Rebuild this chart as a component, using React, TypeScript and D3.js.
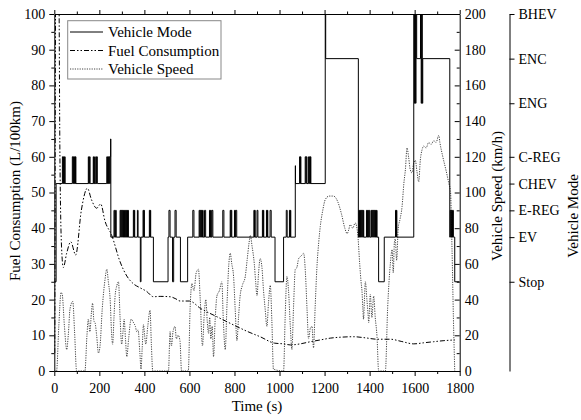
import React, { useEffect, useRef } from "react";
import * as d3 from "d3";

const W = 581;
const H = 420;

const timeTicks = [0, 200, 400, 600, 800, 1000, 1200, 1400, 1600, 1800];
const timeMinor = [100, 300, 500, 700, 900, 1100, 1300, 1500, 1700];
const fuelTicks = [0, 10, 20, 30, 40, 50, 60, 70, 80, 90, 100];
const fuelMinor = [5, 15, 25, 35, 45, 55, 65, 75, 85, 95];
const speedTicks = [0, 20, 40, 60, 80, 100, 120, 140, 160, 180, 200];
const speedMinor = [10, 30, 50, 70, 90, 110, 130, 150, 170, 190];
const modeNames = ["Stop", "EV", "E-REG", "CHEV", "C-REG", "ENG", "ENC", "BHEV"];
const modeLevels = [25, 37.5, 45, 52.5, 60, 75, 87.5, 100];

const seriesNames = ["Vehicle Mode", "Fuel Consumption", "Vehicle Speed"];

// Fuel consumption (L/100km) [time s, value]
const fuelData: [number, number][] = [
  [2, 5], [8, 130], [18, 130], [25, 60], [32, 35], [40, 29], [55, 33], [73, 36.2], [95, 32.5],
  [120, 45], [147, 51.2], [165, 48], [188, 45.6], [206, 46.8], [225, 42], [255, 38],
  [292, 30.6], [322, 26.6], [350, 24.5], [381, 23.3], [410, 22.3], [440, 20.8], [470, 20.9],
  [514, 20.8], [540, 20.2], [558, 19.6], [600, 19.6], [650, 17.5], [722, 15.2], [796, 12.9],
  [860, 11], [914, 9.6], [978, 7.8], [1018, 7.6], [1048, 7.3], [1092, 7.6], [1137, 8.2],
  [1181, 8.7], [1225, 9.2], [1280, 9.5], [1329, 9.6], [1380, 9.3], [1433, 8.9], [1492, 8.9],
  [1540, 8.3], [1596, 7.6], [1640, 7.9], [1684, 8.2], [1730, 8.5], [1778, 8.7],
];

// Vehicle speed (km/h) [time s, value]
const speedData: [number, number][] = [
  [0, 0], [10, 0], [20, 25], [30, 44], [35, 43], [45, 25], [55, 12], [62, 20], [70, 35], [82, 39],
  [90, 22], [99, 0], [136, 0], [145, 20], [151, 29], [158, 22], [165, 33], [170, 38], [176, 28],
  [181, 27], [188, 20], [196, 10], [203, 14], [213, 35], [225, 51], [233, 57], [240, 50], [248, 40],
  [254, 22], [259, 15], [265, 30], [270, 42], [278, 48], [285, 50], [292, 30], [299, 15], [305, 22],
  [310, 29], [316, 18], [322, 8], [330, 18], [341, 29], [352, 27], [360, 25], [366, 22], [372, 23],
  [380, 10], [385, 1], [390, 12], [396, 26], [401, 20], [406, 15], [415, 25], [425, 34], [431, 15],
  [437, 0], [507, 0], [514, 22], [520, 14], [527, 22], [536, 25], [542, 18], [550, 20], [558, 17],
  [565, 0], [595, 0], [603, 35], [611, 49], [620, 45], [630, 55], [640, 57], [648, 40], [658, 14],
  [665, 30], [673, 40], [679, 28], [685, 21], [690, 30], [695, 18], [701, 25], [707, 8], [714, 28],
  [722, 42], [733, 45], [744, 50], [750, 30], [759, 12], [767, 38], [775, 60], [781, 66], [788, 60],
  [796, 53], [803, 35], [811, 17], [818, 30], [825, 42], [835, 48], [848, 53], [856, 62], [865, 72],
  [870, 76], [878, 70], [888, 60], [894, 50], [900, 42], [907, 55], [914, 63], [922, 58], [929, 45],
  [936, 35], [944, 25], [951, 38], [959, 48], [966, 28], [973, 1], [1018, 0], [1025, 30], [1033, 53],
  [1040, 45], [1048, 25], [1055, 12], [1062, 35], [1070, 57], [1077, 58], [1085, 63], [1092, 64],
  [1100, 65], [1107, 66], [1115, 55], [1122, 35], [1129, 18], [1137, 24], [1144, 25], [1151, 13],
  [1158, 35], [1166, 58], [1174, 72], [1181, 81], [1192, 90], [1203, 96], [1220, 98], [1240, 98],
  [1258, 95], [1275, 88], [1290, 80], [1300, 77], [1307, 79], [1314, 82], [1325, 80], [1336, 83],
  [1347, 77], [1356, 60], [1362, 50], [1366, 45], [1370, 35], [1373, 29], [1377, 40], [1381, 50],
  [1388, 40], [1393, 32], [1396, 27], [1403, 43], [1410, 30], [1418, 42], [1425, 30], [1433, 19],
  [1440, 0], [1470, 0], [1480, 35], [1492, 60], [1500, 68], [1505, 55], [1510, 72], [1514, 74],
  [1520, 62], [1527, 80], [1535, 85], [1544, 92], [1552, 105], [1559, 113], [1566, 125], [1573, 120],
  [1580, 113], [1588, 111], [1595, 116], [1603, 118], [1610, 112], [1618, 106], [1625, 118],
  [1633, 124], [1640, 126], [1651, 125], [1662, 128], [1673, 127], [1685, 129], [1695, 128],
  [1707, 132], [1712, 128], [1725, 120], [1740, 112], [1752, 105], [1759, 101], [1766, 68],
  [1772, 30], [1778, 0],
];

// Vehicle mode steps [time s, level on left axis]
const modeData: [number, number][] = [
  [0, 25], [8, 52.5],
  [36, 60], [39, 52.5], [41, 60], [44, 52.5], [46, 60], [48, 52.5],
  [80, 60], [83, 52.5], [85, 60], [88, 52.5], [90, 60], [93, 52.5], [94, 60], [96, 52.5],
  [151, 60], [153, 52.5], [156, 60], [159, 52.5],
  [173, 60], [175, 52.5], [177, 60], [178, 52.5],
  [184, 60], [186, 52.5], [188, 60], [191, 52.5],
  [233, 60], [236, 52.5], [238, 60], [241, 52.5], [243, 60], [246, 52.5], [248, 60], [250, 65],
  [251, 37.5],
  [265, 45], [268, 37.5], [272, 45], [275, 37.5],
  [292, 45], [295, 37.5], [297, 45], [300, 37.5], [302, 45], [305, 37.5], [307, 45], [310, 37.5],
  [312, 45], [315, 37.5], [317, 45], [320, 37.5], [322, 45], [325, 37.5], [327, 45], [329, 37.5],
  [351, 45], [354, 37.5], [355, 45], [357, 37.5],
  [369, 45], [372, 37.5],
  [382, 25], [385, 37.5],
  [394, 45], [397, 37.5], [398, 45], [400, 37.5],
  [422, 45], [425, 37.5], [426, 45], [428, 37.5],
  [440, 25], [505, 37.5],
  [509, 45], [514, 37.5],
  [525, 25], [530, 37.5],
  [536, 45], [541, 37.5],
  [560, 25], [592, 37.5],
  [615, 45], [620, 37.5],
  [643, 45], [646, 37.5], [648, 45], [651, 37.5], [653, 45], [656, 37.5], [658, 45], [661, 37.5],
  [667, 45], [672, 37.5],
  [689, 45], [692, 37.5], [694, 45], [697, 37.5], [700, 45], [704, 37.5],
  [748, 45], [753, 37.5],
  [781, 45], [784, 37.5], [785, 45], [788, 37.5],
  [800, 45], [803, 37.5], [805, 45], [810, 37.5],
  [886, 45], [889, 37.5], [890, 45], [892, 37.5],
  [900, 45], [904, 37.5],
  [924, 45], [927, 37.5], [928, 45], [930, 37.5],
  [942, 45], [945, 37.5], [946, 45], [948, 37.5],
  [958, 45], [963, 37.5],
  [980, 25], [1018, 37.5],
  [1030, 45], [1034, 37.5], [1044, 45], [1047, 37.5], [1048, 45], [1050, 37.5],
  [1070, 57.5], [1071, 52.5],
  [1089, 60], [1092, 52.5], [1093, 60], [1095, 52.5],
  [1114, 60], [1117, 52.5], [1119, 60], [1122, 52.5],
  [1129, 60], [1132, 52.5], [1134, 60], [1137, 52.5], [1138, 60], [1139, 52.5],
  [1203, 100], [1205, 87.5],
  [1350, 37.5],
  [1352, 45], [1355, 37.5], [1357, 45], [1360, 37.5], [1362, 45], [1365, 37.5], [1367, 45],
  [1370, 37.5], [1372, 45], [1374, 37.5],
  [1386, 45], [1389, 37.5], [1391, 45], [1394, 37.5], [1396, 45], [1400, 37.5],
  [1406, 45], [1409, 37.5], [1411, 45], [1414, 37.5], [1416, 45], [1419, 37.5], [1421, 45],
  [1424, 37.5], [1426, 45], [1429, 37.5], [1431, 45], [1433, 37.5],
  [1440, 25], [1465, 37.5],
  [1515, 45], [1518, 37.5], [1519, 45], [1521, 37.5],
  [1596, 100], [1599, 75], [1601, 100], [1604, 75], [1606, 100], [1609, 87.5],
  [1626, 100], [1629, 75], [1631, 100], [1634, 75], [1636, 87.5],
  [1756, 37.5],
  [1758, 45], [1761, 37.5], [1763, 45], [1766, 37.5], [1768, 45], [1772, 37.5],
  [1778, 25], [1800, 25],
];

const FONT = "Liberation Serif";

export default function App() {
  const ref = useRef<SVGSVGElement>(null);

  useEffect(() => {
    const svg = d3.select(ref.current);
    svg.selectAll("*").remove();

    const L = 54.3, R = 459.7, T = 14, B = 371;
    const x = d3.scaleLinear().domain([0, 1800]).range([L, R]);
    const yF = d3.scaleLinear().domain([0, 100]).range([B, T]);
    const yS = d3.scaleLinear().domain([0, 200]).range([B, T]);
    const fmt = d3.format("d");

    const style = (g: any, size = 14) => {
      g.attr("font-family", null).attr("font-size", null).attr("fill", null);
      g.selectAll("text").attr("fill", "#000").style("font-family", FONT).style("font-size", size + "px");
      g.selectAll("line, path").attr("stroke", "#000").attr("stroke-width", 1);
    };

    svg.append("defs").append("clipPath").attr("id", "plotclip")
      .append("rect").attr("x", L).attr("y", T).attr("width", R - L).attr("height", B - T);

    const plot = svg.append("g").attr("clip-path", "url(#plotclip)");

    plot.append("path").datum(speedData)
      .attr("fill", "none").attr("stroke", "#444").attr("stroke-width", 1)
      .attr("stroke-dasharray", "1.2,1.2")
      .attr("d", d3.line<[number, number]>().x(d => x(d[0])).y(d => yS(d[1])).curve(d3.curveMonotoneX));

    plot.append("path").datum(fuelData)
      .attr("fill", "none").attr("stroke", "#000").attr("stroke-width", 1)
      .attr("stroke-dasharray", "5,2,1.5,2,1.5,2")
      .attr("d", d3.line<[number, number]>().x(d => x(d[0])).y(d => yF(d[1])).curve(d3.curveMonotoneX));

    plot.append("path").datum(modeData)
      .attr("fill", "none").attr("stroke", "#000").attr("stroke-width", 1)
      .attr("d", d3.line<[number, number]>().x(d => x(d[0])).y(d => yF(d[1])).curve(d3.curveStepAfter));

    const gB = svg.append("g").attr("transform", `translate(0,${B})`)
      .call(d3.axisBottom(x).tickValues(timeTicks).tickSize(5).tickSizeOuter(0).tickPadding(7).tickFormat(fmt));
    style(gB);
    const gBm = svg.append("g").attr("transform", `translate(0,${B})`)
      .call(d3.axisBottom(x).tickValues(timeMinor).tickSize(3).tickFormat(() => ""));
    gBm.select(".domain").remove(); style(gBm);

    const gT = svg.append("g").attr("transform", `translate(0,${T})`)
      .call(d3.axisTop(x).tickValues(timeTicks).tickSize(4).tickSizeOuter(0).tickFormat(() => ""));
    style(gT);
    const gTm = svg.append("g").attr("transform", `translate(0,${T})`)
      .call(d3.axisTop(x).tickValues(timeMinor).tickSize(2.5).tickFormat(() => ""));
    gTm.select(".domain").remove(); style(gTm);

    const gL = svg.append("g").attr("transform", `translate(${L},0)`)
      .call(d3.axisLeft(yF).tickValues(fuelTicks).tickSize(5).tickSizeOuter(0).tickPadding(4).tickFormat(fmt));
    style(gL);
    const gLm = svg.append("g").attr("transform", `translate(${L},0)`)
      .call(d3.axisLeft(yF).tickValues(fuelMinor).tickSize(3).tickFormat(() => ""));
    gLm.select(".domain").remove(); style(gLm);

    const gR = svg.append("g").attr("transform", `translate(${R},0)`)
      .call(d3.axisRight(yS).tickValues(speedTicks).tickSizeInner(-5).tickSizeOuter(0).tickPadding(5).tickFormat(fmt));
    style(gR);
    const gRm = svg.append("g").attr("transform", `translate(${R},0)`)
      .call(d3.axisRight(yS).tickValues(speedMinor).tickSize(-3).tickFormat(() => ""));
    gRm.select(".domain").remove(); style(gRm);

    const gM = svg.append("g").attr("transform", `translate(509.5,0)`)
      .call(d3.axisRight(yF).tickValues(modeLevels).tickSize(5).tickSizeOuter(0).tickPadding(4)
        .tickFormat((d, i) => modeNames[i]));
    style(gM);

    const title = (txt: string, tx: number, ty: number, rot: number) =>
      svg.append("text").attr("transform", `translate(${tx},${ty}) rotate(${rot})`)
        .attr("text-anchor", "middle").style("font-family", FONT).style("font-size", "15px")
        .attr("fill", "#000").text(txt);
    title("Time (s)", (L + R) / 2, 411, 0);
    title("Fuel Consumption (L/100km)", 20, 191, -90);
    title("Vehicle Speed (km/h)", 502, 196, -90);
    title("Vehicle Mode", 578, 216, -90);

    const lg = svg.append("g");
    lg.append("rect").attr("x", 67.7).attr("y", 20.7).attr("width", 153.3).attr("height", 58.3)
      .attr("fill", "#fff").attr("stroke", "#888").attr("stroke-width", 1);
    const dashes = [null, "5,2,1.5,2,1.5,2", "1.2,1.2"];
    const colors = ["#000", "#000", "#444"];
    seriesNames.forEach((name, i) => {
      const cy = 32 + i * 18.5;
      lg.append("line").attr("x1", 70).attr("x2", 103).attr("y1", cy).attr("y2", cy)
        .attr("stroke", colors[i]).attr("stroke-width", 1)
        .attr("stroke-dasharray", dashes[i]);
      lg.append("text").attr("x", 108).attr("y", cy + 5).style("font-family", FONT)
        .style("font-size", "15px").attr("fill", "#000").text(name);
    });
  }, []);

  return (
    <svg
      ref={ref}
      width={W}
      height={H}
      style={{ position: "absolute", left: 0, top: 0, background: "#fff", fontFamily: FONT }}
    />
  );
}
